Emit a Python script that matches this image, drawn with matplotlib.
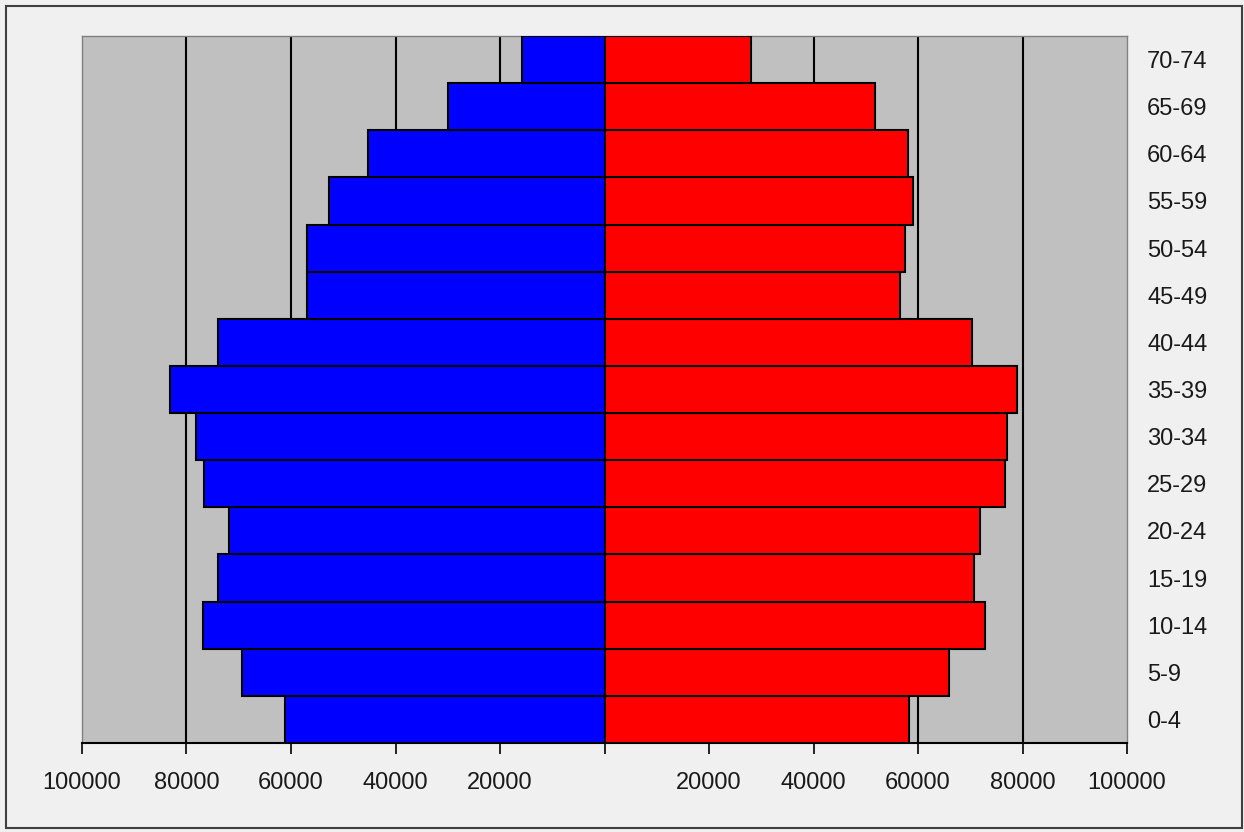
import matplotlib.pyplot as plt
import matplotlib.patches as mpatches
from matplotlib import font_manager
import numpy as np

# age groups, bottom to top
ages = ['0-4', '5-9', '10-14', '15-19', '20-24', '25-29', '30-34', '35-39',
        '40-44', '45-49', '50-54', '55-59', '60-64', '65-69', '70-74']
male = [61200, 69300, 76900, 73900, 71800, 76600, 78100, 83100,
        73900, 57000, 57000, 52800, 45200, 29900, 15700]
female = [58200, 66000, 72900, 70800, 71800, 76700, 77100, 79000,
          70400, 56500, 57600, 59100, 58000, 51800, 28100]
xticks = [-100000, -80000, -60000, -40000, -20000, 0,
          20000, 40000, 60000, 80000, 100000]

names = {f.name for f in font_manager.fontManager.ttflist}
if 'Liberation Sans Narrow' in names:
    fam, fsize = 'Liberation Sans Narrow', 19
else:
    fam, fsize = 'Liberation Sans', 17
plt.rcParams['font.family'] = [fam, 'DejaVu Sans']

fig = plt.figure(figsize=(12.44, 8.32), dpi=100, facecolor='#F0F0F0')
ax = fig.add_axes([82 / 1244, 89 / 832, 1045 / 1244, 707 / 832])
ax.set_facecolor('#C0C0C0')

# outer frame
fig.patches.append(mpatches.Rectangle((6 / 1244, 4 / 832), 1236 / 1244, 822 / 832,
                                      transform=fig.transFigure, fill=False,
                                      edgecolor='#404040', linewidth=1.5))

y = np.arange(len(ages))
ax.barh(y, [-m for m in male], height=1.0, color='#0000FF', edgecolor='black',
        linewidth=1.5, zorder=3)
ax.barh(y, female, height=1.0, color='#FF0000', edgecolor='black',
        linewidth=1.5, zorder=3)

for xv in xticks[1:-1]:
    ax.axvline(xv, color='black', linewidth=1.5, zorder=1)

ax.set_xlim(-100000, 100000)
ax.set_ylim(-0.5, len(ages) - 0.5)
ax.set_xticks(xticks)
ax.set_xticklabels(['' if v == 0 else str(abs(v)) for v in xticks])
ax.set_yticks(y)
ax.set_yticklabels(ages)
ax.yaxis.tick_right()
ax.tick_params(axis='y', length=0, pad=14.5, labelsize=fsize, labelcolor='#1a1a1a')
ax.tick_params(axis='x', direction='out', length=8, width=1.2, pad=13,
               labelsize=fsize, labelcolor='#1a1a1a')
for lab in ax.get_yticklabels():
    lab.set_horizontalalignment('left')

for side in ['top', 'left', 'right']:
    ax.spines[side].set_color('#808080')
    ax.spines[side].set_linewidth(1)
ax.spines['bottom'].set_color('black')
ax.spines['bottom'].set_linewidth(1.5)

fig.savefig('out.png', dpi=100, facecolor=fig.get_facecolor())
